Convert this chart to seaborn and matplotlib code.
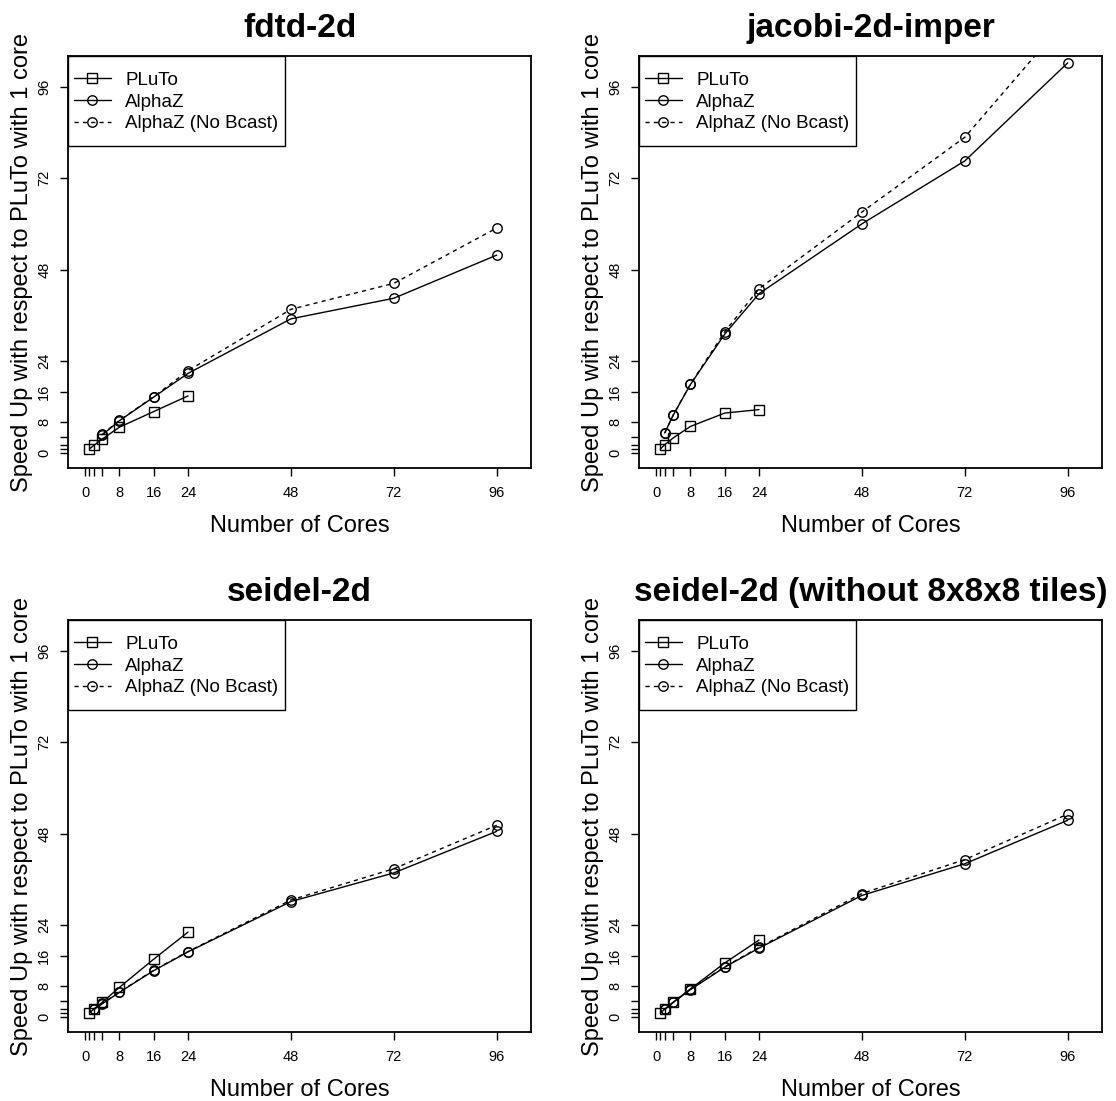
import matplotlib
matplotlib.use("Agg")
import matplotlib.pyplot as plt
import matplotlib.patches as mpatches
import seaborn as sns

# ---- data ----
titles = ["fdtd-2d", "jacobi-2d-imper", "seidel-2d", "seidel-2d (without 8x8x8 tiles)"]
series_names = ["PLuTo", "AlphaZ", "AlphaZ (No Bcast)"]

pluto_cores = [1, 2, 4, 8, 16, 24]
fdtd_pluto = [1.0, 1.9, 3.6, 6.7, 10.8, 14.9]
fdtd_alphaz_cores = [4, 8, 16, 24, 48, 72, 96]
fdtd_alphaz = [4.7, 8.4, 14.6, 20.8, 35.1, 40.5, 51.8]
fdtd_nobcast = [4.8, 8.5, 14.7, 21.5, 37.6, 44.4, 58.9]

jacobi_pluto = [1.0, 2.1, 3.9, 6.9, 10.4, 11.3]
jacobi_alphaz_cores = [2, 4, 8, 16, 24, 48, 72, 96]
jacobi_alphaz = [5.2, 9.9, 17.9, 31.1, 41.7, 60.0, 76.5, 102.2]
jacobi_nobcast = [5.2, 9.9, 18.0, 31.7, 43.0, 63.1, 82.7, 114.0]

seidel_pluto = [1.0, 2.0, 3.8, 7.7, 15.1, 22.2]
seidel_alphaz_cores = [2, 4, 8, 16, 24, 48, 72, 96]
seidel_alphaz = [1.9, 3.4, 6.4, 12.1, 17.0, 30.2, 37.7, 48.6]
seidel_nobcast = [1.9, 3.5, 6.5, 12.2, 17.1, 30.6, 38.8, 50.2]

seidel8_pluto = [1.0, 2.0, 3.8, 7.3, 14.1, 20.1]
seidel8_alphaz_cores = [2, 4, 8, 16, 24, 48, 72, 96]
seidel8_alphaz = [1.9, 3.8, 7.1, 13.0, 18.0, 31.8, 40.1, 51.5]
seidel8_nobcast = [1.9, 3.8, 7.2, 13.1, 18.2, 32.3, 41.2, 53.1]

tick_values = [0, 1, 2, 4, 8, 16, 24, 48, 72, 96]
tick_labels = ["0", "", "", "", "8", "16", "24", "48", "72", "96"]

panels = [
    (fdtd_pluto, fdtd_alphaz_cores, fdtd_alphaz, fdtd_nobcast),
    (jacobi_pluto, jacobi_alphaz_cores, jacobi_alphaz, jacobi_nobcast),
    (seidel_pluto, seidel_alphaz_cores, seidel_alphaz, seidel_nobcast),
    (seidel8_pluto, seidel8_alphaz_cores, seidel8_alphaz, seidel8_nobcast),
]

# ---- style ----
sns.set_theme(style="white")
plt.rcParams["font.family"] = ["Liberation Sans", "DejaVu Sans"]
for k in ["text.color", "axes.labelcolor", "xtick.color", "ytick.color", "axes.edgecolor"]:
    plt.rcParams[k] = "black"
plt.rcParams["axes.linewidth"] = 1.3

W, H = 1116, 1101
fig = plt.figure(figsize=(W / 100, H / 100), dpi=100)

# axes boxes in pixel coords: (left, top, right, bottom)
boxes = [(68, 56, 531, 468), (639, 56, 1102, 468),
         (68, 620, 531, 1032), (639, 620, 1102, 1032)]

legends = []
for (title, data, box) in zip(titles, panels, boxes):
    l, t, r, b = box
    ax = fig.add_axes([l / W, 1 - b / H, (r - l) / W, (b - t) / H])
    p, ac, a, nb = data
    common = dict(color="black", markerfacecolor="none", markeredgecolor="black",
                  markeredgewidth=1.0, markersize=6.8, linewidth=1.0, ax=ax,
                  estimator=None, sort=False)
    sns.lineplot(x=pluto_cores, y=p, marker="s", linestyle="-", label=series_names[0], **common)
    sns.lineplot(x=ac, y=a, marker="o", linestyle="-", label=series_names[1], **common)
    sns.lineplot(x=ac, y=nb, marker="o", linestyle=(0, (3, 3)), label=series_names[2], **common)

    ax.set_xlim(-4, 104)
    ax.set_ylim(-4, 104)
    ax.set_xticks(tick_values)
    ax.set_xticklabels(tick_labels, fontsize=10.5)
    ax.set_yticks(tick_values)
    ax.set_yticklabels(tick_labels, fontsize=10.5, rotation=90, va="center")
    ax.tick_params(axis="both", direction="out", length=6, width=1, color="black",
                   bottom=True, left=True, pad=6)
    ax.tick_params(axis="x", pad=7)
    ax.set_xlabel("Number of Cores", fontsize=17, labelpad=11)
    ax.set_ylabel("Speed Up with respect to PLuTo with 1 core", fontsize=17, labelpad=3)
    ax.set_title(title, fontsize=24, fontweight="bold", pad=14)
    for s in ax.spines.values():
        s.set_color("black")
        s.set_linewidth(1.3)
    leg = ax.legend(loc="upper left", bbox_to_anchor=(0, 1 - 10 / (b - t)), borderaxespad=0,
                    frameon=False, fontsize=13.5,
                    handlelength=2.0, handletextpad=0.75, labelspacing=0.25,
                    borderpad=0.3)
    legends.append((ax, leg, box))

# draw a square frame around each legend with extra vertical padding (R style)
fig.canvas.draw()
for ax, leg, box in legends:
    l, t, r, b = box
    bb = leg.get_window_extent()
    x0 = l
    right = bb.x1 + 1
    y_top_disp = H - t
    y_bot_disp = bb.y0 - 8
    rect = mpatches.Rectangle((x0 / W, y_bot_disp / H), (right - x0) / W,
                              (y_top_disp - y_bot_disp) / H, transform=fig.transFigure,
                              fill=False, edgecolor="black", linewidth=1.0, zorder=5)
    fig.patches.append(rect)

fig.savefig("out.png", dpi=100)
